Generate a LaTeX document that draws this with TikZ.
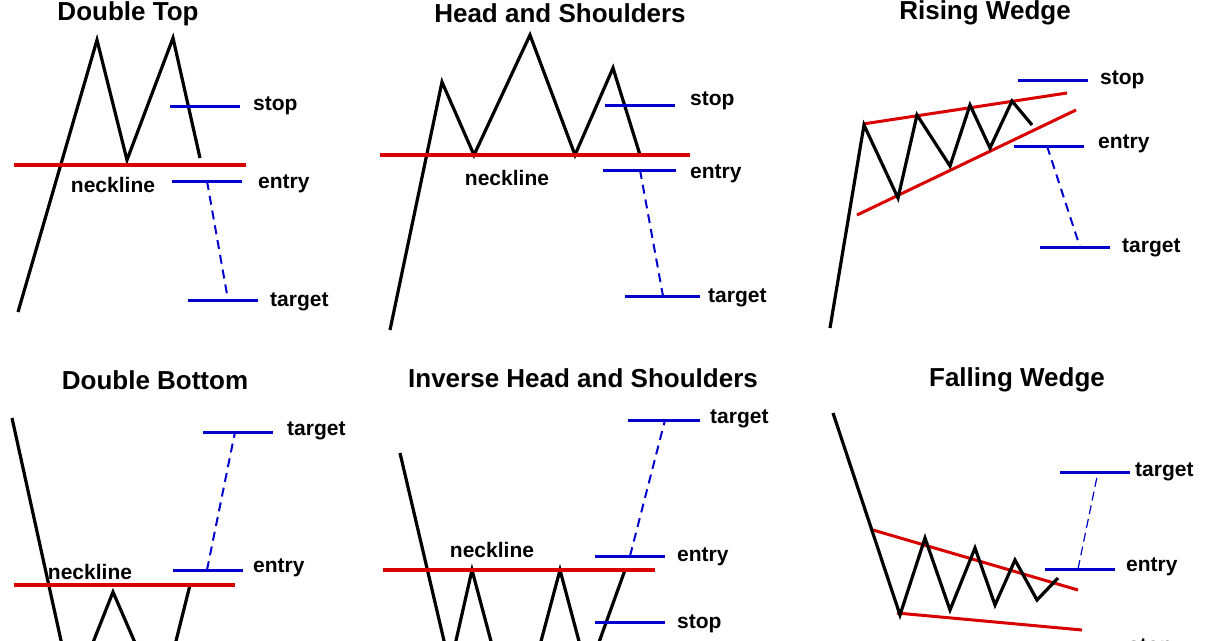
\documentclass[tikz,border=0pt]{standalone}
\usepackage{fontspec}
\setmainfont{Liberation Sans}
\begin{document}
\begin{tikzpicture}[x=1pt,y=-1pt,
 price/.style={line width=3.2pt,black,line join=miter},
 neck/.style={line width=3.5pt,red!85!black},
 lvl/.style={line width=3pt,blue!80!black},
 proj/.style={line width=2pt,blue!80!black,dash pattern=on 9pt off 6pt},
 ttl/.style={font=\fontsize{26}{28}\selectfont\bfseries},
 lbl/.style={font=\fontsize{21}{23}\selectfont\bfseries,anchor=west,inner sep=0pt}]
\useasboundingbox (0,0) rectangle (1210,640);
\clip (0,0) rectangle (1210,640);
% Double Top
\node[ttl] (t1) at (128,14) {Double Top};
\draw[price] (18,312) -- (97,40) -- (127,160) -- (173,38) -- (200,158);
\draw[neck] (14,165) -- (246,165);
\node[lbl,anchor=center] (n1) at (113,185) {neckline};
\draw[lvl] (170,106) -- (240,106);
\node[lbl] (s1) at (253,106) {stop};
\draw[lvl] (172,181) -- (242,181);
\coordinate (e1) at (207,181);
\node[lbl] (en1) at (258,184) {entry};
\draw[lvl] (188,300) -- (258,300);
\coordinate (g1) at (228,300);
\node[lbl] (tg1) at (270,302) {target};
\draw[proj] (e1) -- (g1);
% Head and Shoulders
\node[ttl] (t2) at (560,13) {Head and Shoulders};
\draw[price] (390,330) -- (442,82) -- (474,155) -- (530,35) -- (575,155) -- (613,68) -- (640,155);
\draw[neck] (380,155) -- (690,155);
\node[lbl,anchor=center] (n2) at (507,178) {neckline};
\draw[lvl] (605,105) -- (675,105);
\node[lbl] (s2) at (690,101) {stop};
\draw[lvl] (603,170) -- (676,170);
\coordinate (e2) at (640,170);
\node[lbl] (en2) at (690,174) {entry};
\draw[lvl] (625,296) -- (700,296);
\coordinate (g2) at (663,296);
\node[lbl] (tg2) at (708,298) {target};
\draw[proj] (e2) -- (g2);
% Rising Wedge
\node[ttl] (t3) at (985,13) {Rising Wedge};
\draw[neck,line width=3pt] (863,124) -- (1067,93);
\draw[neck,line width=3pt] (857,215) -- (1076,110);
\draw[price] (830,328) -- (864,125) -- (898,198) -- (917,115) -- (950,166) -- (970,105) -- (990,148) -- (1012,101) -- (1032,125);
\draw[lvl] (1018,80) -- (1088,80);
\node[lbl] (s3) at (1100,80) {stop};
\draw[lvl] (1014,146) -- (1084,146);
\coordinate (e3) at (1047,146);
\node[lbl] (en3) at (1098,144) {entry};
\draw[lvl] (1040,247) -- (1110,247);
\coordinate (g3) at (1080,247);
\node[lbl] (tg3) at (1122,248) {target};
\draw[proj] (e3) -- (g3);
% Double Bottom
\node[ttl] (t4) at (155,380) {Double Bottom};
\draw[price] (12,418) -- (62,645);
\draw[price] (92,645) -- (113,592) -- (136,645);
\draw[price] (175,645) -- (190,585);
\draw[neck] (14,585) -- (235,585);
\node[lbl,anchor=center] (n4) at (90,572) {neckline};
\draw[lvl] (173,570) -- (243,570);
\coordinate (e4) at (207,570);
\node[lbl] (en4) at (253,568) {entry};
\draw[lvl] (203,432) -- (273,432);
\coordinate (g4) at (235,432);
\node[lbl] (tg4) at (287,431) {target};
\draw[proj] (e4) -- (g4);
% Inverse H&S
\node[ttl] (t5) at (583,378) {Inverse Head and Shoulders};
\draw[price] (400,453) -- (445,645);
\draw[price] (455,645) -- (472,570) -- (492,645);
\draw[price] (540,645) -- (560,570) -- (580,645);
\draw[price] (598,645) -- (625,570);
\draw[neck] (383,570) -- (655,570);
\node[lbl,anchor=center] (n5) at (492,550) {neckline};
\draw[lvl] (595,556) -- (665,556);
\coordinate (e5) at (630,556);
\node[lbl] (en5) at (677,557) {entry};
\draw[lvl] (628,420) -- (700,420);
\coordinate (g5) at (665,420);
\node[lbl] (tg5) at (710,419) {target};
\draw[proj] (e5) -- (g5);
\draw[lvl] (595,622) -- (665,622);
\node[lbl] (s5) at (677,624) {stop};
% Falling Wedge
\node[ttl] (t6) at (1017,380) {Falling Wedge};
\draw[neck,line width=3pt] (873,530) -- (1078,590);
\draw[neck,line width=3pt] (897,613) -- (1082,630);
\draw[price] (833,413) -- (900,615) -- (925,538) -- (950,610) -- (975,548) -- (995,605) -- (1015,560) -- (1037,600) -- (1058,578);
\draw[lvl] (1060,472) -- (1130,472);
\coordinate (g6) at (1098,472);
\node[lbl] (tg6) at (1135,472) {target};
\draw[lvl] (1045,569) -- (1115,569);
\coordinate (e6) at (1078,569);
\node[lbl] (en6) at (1126,567) {entry};
\draw[line width=1.2pt,blue!80!black,dash pattern=on 9pt off 5pt] (e6) -- (g6);
\node[lbl] (s6) at (1128,648) {stop};
\end{tikzpicture}
\end{document}
